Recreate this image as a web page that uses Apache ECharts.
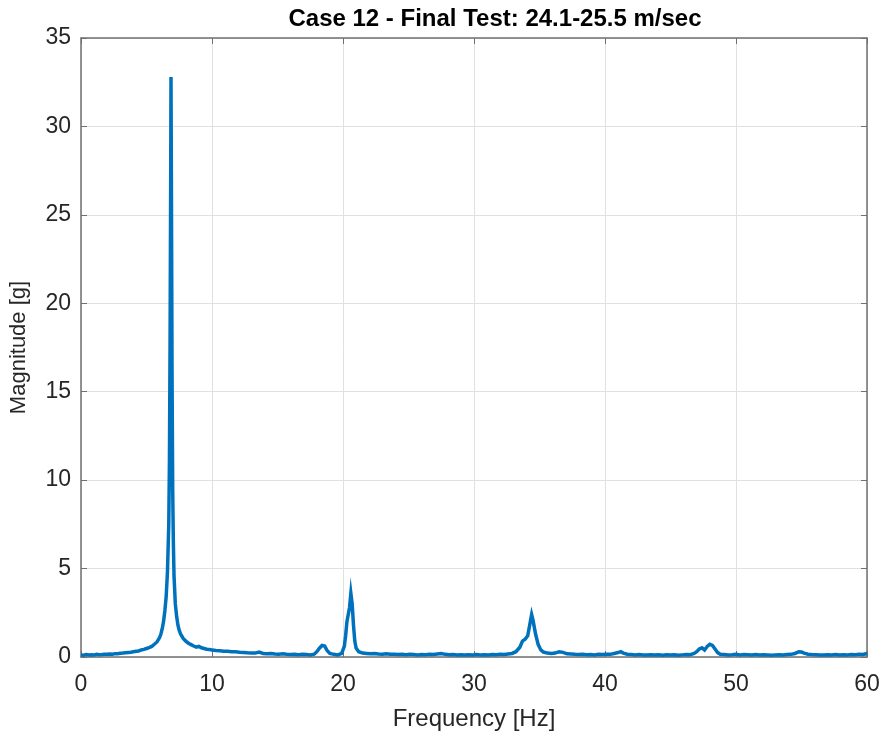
<!DOCTYPE html>
<html>
<head>
<meta charset="utf-8">
<script src="https://cdn.jsdelivr.net/npm/echarts@6/dist/echarts.min.js"></script>
<style>html,body{margin:0;padding:0;background:#fff}#c{width:885px;height:742px}</style>
</head>
<body>
<div id="c"></div>
<script>
const titleText = 'Case 12 - Final Test: 24.1-25.5 m/sec';
const xName = 'Frequency [Hz]';
const yName = 'Magnitude [g]';
const xTicks = [0, 10, 20, 30, 40, 50, 60];
const yTicks = [0, 5, 10, 15, 20, 25, 30, 35];

const freq = [
  0,0.2,0.4,0.6,0.8,1.0,1.2,1.4,1.6,1.8,2.0,2.2,2.4,2.6,2.8,3.0,3.2,3.4,3.6,3.8,4.0,4.2,4.4,4.6,4.8,5.0,
  5.2,5.4,5.6,5.8,6.0,6.1,6.2,6.3,6.4,6.5,6.6,6.7,6.75,6.8,6.85,6.87,6.9,6.95,7.0,7.05,7.1,7.2,7.3,7.4,7.5,7.6,7.8,
  8.0,8.2,8.4,8.6,8.8,9.0,9.2,9.4,9.6,9.8,10.0,10.3,10.6,10.9,11.2,11.5,11.8,12.1,12.4,12.7,13.0,13.3,13.6,13.9,
  14.2,14.5,14.8,15.1,15.4,15.7,16.0,16.3,16.6,16.9,17.2,17.5,17.8,18.0,18.2,18.4,18.6,18.8,19.0,19.3,19.6,19.9,
  20.1,20.2,20.3,20.4,20.5,20.6,20.7,20.8,20.9,21.0,21.2,21.5,21.8,22.1,22.4,22.7,23.0,23.3,23.6,23.9,24.2,24.5,
  24.8,25.1,25.4,25.7,26.0,26.3,26.6,26.9,27.2,27.5,27.8,28.1,28.4,28.7,29.0,29.3,29.6,29.9,30.2,30.5,30.8,31.1,
  31.4,31.7,32.0,32.3,32.6,32.9,33.2,33.5,33.7,33.9,34.1,34.3,34.4,34.5,34.7,34.9,35.1,35.3,35.6,35.9,36.2,36.5,
  36.8,37.1,37.4,37.7,38.0,38.3,38.6,38.9,39.2,39.5,39.8,40.1,40.4,40.7,41.0,41.2,41.4,41.7,42.0,42.3,42.6,42.9,
  43.2,43.5,43.8,44.1,44.4,44.7,45.0,45.3,45.6,45.9,46.2,46.5,46.8,47.0,47.2,47.4,47.6,47.8,48.0,48.2,48.4,48.6,
  48.8,49.1,49.4,49.7,50.0,50.3,50.6,50.9,51.2,51.5,51.8,52.1,52.4,52.7,53.0,53.3,53.6,53.9,54.2,54.5,54.8,55.0,
  55.2,55.5,55.8,56.1,56.4,56.7,57.0,57.3,57.6,57.9,58.2,58.5,58.8,59.1,59.4,59.7,60.0
];
const magnitude = [
  0.12,0.10,0.14,0.11,0.13,0.12,0.15,0.13,0.14,0.16,0.15,0.17,0.16,0.19,0.18,0.21,0.22,0.24,0.26,0.27,0.30,0.33,0.34,0.40,0.43,0.48,
  0.53,0.60,0.72,0.85,1.10,1.30,1.60,2.00,2.60,3.40,4.80,7.50,11.0,18.0,28.0,32.8,27.0,16.0,9.50,6.50,4.60,3.00,2.30,1.80,1.50,1.30,1.05,
  0.90,0.78,0.70,0.62,0.56,0.60,0.52,0.48,0.44,0.42,0.40,0.37,0.35,0.33,0.32,0.30,0.29,0.27,0.26,0.24,0.23,0.22,0.28,0.20,
  0.19,0.20,0.17,0.16,0.18,0.15,0.14,0.16,0.13,0.15,0.14,0.12,0.16,0.30,0.50,0.65,0.62,0.35,0.20,0.15,0.12,0.20,
  0.60,1.20,2.00,2.10,2.80,3.60,3.00,1.80,0.90,0.50,0.30,0.22,0.20,0.18,0.20,0.17,0.16,0.18,0.15,0.16,0.14,0.15,
  0.13,0.15,0.14,0.12,0.14,0.13,0.15,0.14,0.17,0.20,0.15,0.13,0.14,0.12,0.13,0.11,0.13,0.12,0.14,0.12,0.13,0.11,
  0.14,0.13,0.15,0.14,0.17,0.20,0.30,0.55,0.90,1.00,1.20,2.00,2.40,2.10,1.30,0.70,0.40,0.28,0.22,0.20,0.22,0.30,
  0.26,0.18,0.17,0.15,0.14,0.16,0.13,0.14,0.12,0.15,0.14,0.16,0.15,0.20,0.25,0.30,0.22,0.16,0.14,0.12,0.14,0.11,
  0.12,0.13,0.11,0.12,0.10,0.12,0.11,0.13,0.10,0.12,0.14,0.13,0.20,0.30,0.45,0.52,0.40,0.60,0.72,0.65,0.45,0.25,
  0.16,0.14,0.12,0.13,0.15,0.12,0.14,0.13,0.12,0.14,0.11,0.13,0.12,0.10,0.12,0.13,0.12,0.14,0.15,0.20,0.30,0.28,
  0.22,0.16,0.14,0.13,0.12,0.11,0.13,0.12,0.14,0.12,0.13,0.11,0.14,0.13,0.15,0.14,0.20
];

const seriesData = freq.map((f, i) => [f, magnitude[i]]);
const axisColor = '#707070';
const textColor = '#262626';
const font = '"Liberation Sans", Arial, sans-serif';

const chart = echarts.init(document.getElementById('c'), null, {renderer: 'canvas'});
const xMin = xTicks[0], xMax = xTicks[xTicks.length - 1];
const yMin = yTicks[0], yMax = yTicks[yTicks.length - 1];

chart.setOption({
  animation: false,
  backgroundColor: '#ffffff',
  title: {
    text: titleText,
    left: 490, top: 2, textAlign: 'center',
    textStyle: {fontFamily: font, fontWeight: 'bold', fontSize: 24, color: '#000'}
  },
  grid: {left: 81, right: 18, top: 38, bottom: 85, containLabel: false, outerBoundsMode: 'none'},
  xAxis: [{
    type: 'value', min: xMin, max: xMax, interval: 10, position: 'bottom',
    name: xName, nameLocation: 'middle', nameGap: 50,
    nameTextStyle: {fontFamily: font, fontSize: 24, color: textColor},
    axisLine: {show: true, onZero: false, lineStyle: {color: axisColor, width: 1.5}},
    axisTick: {show: true, inside: true, length: 6, lineStyle: {color: axisColor}},
    axisLabel: {fontFamily: font, fontSize: 23, color: textColor, margin: 16},
    splitLine: {show: true, lineStyle: {color: '#e0e0e0', width: 1}}
  }, {
    type: 'value', min: xMin, max: xMax, interval: 10, position: 'top',
    axisLine: {show: true, onZero: false, lineStyle: {color: axisColor, width: 1.5}},
    axisTick: {show: true, inside: true, length: 6, lineStyle: {color: axisColor}},
    axisLabel: {show: false}, splitLine: {show: false}
  }],
  yAxis: [{
    type: 'value', min: yMin, max: yMax, interval: 5, position: 'left',
    name: yName, nameLocation: 'middle', nameGap: 51, nameRotate: 90,
    nameTextStyle: {fontFamily: font, fontSize: 22, color: textColor},
    axisLine: {show: true, onZero: false, lineStyle: {color: axisColor, width: 1.5}},
    axisTick: {show: true, inside: true, length: 6, lineStyle: {color: axisColor}},
    axisLabel: {fontFamily: font, fontSize: 23, color: textColor, margin: 10},
    splitLine: {show: true, lineStyle: {color: '#e0e0e0', width: 1}}
  }, {
    type: 'value', min: yMin, max: yMax, interval: 5, position: 'right',
    axisLine: {show: true, onZero: false, lineStyle: {color: axisColor, width: 1.5}},
    axisTick: {show: true, inside: true, length: 6, lineStyle: {color: axisColor}},
    axisLabel: {show: false}, splitLine: {show: false}
  }],
  series: [{
    type: 'line', data: seriesData, xAxisIndex: 0, yAxisIndex: 0,
    showSymbol: false, symbol: 'none',
    lineStyle: {color: '#0072BD', width: 3.5, join: 'miter'},
    z: 5
  }]
});
</script>
</body>
</html>
